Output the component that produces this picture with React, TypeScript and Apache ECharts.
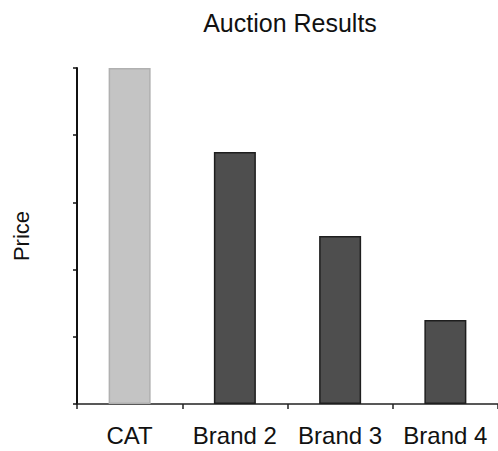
import React, { useEffect, useRef } from "react";
import * as echarts from "echarts";

const categories = ["CAT", "Brand 2", "Brand 3", "Brand 4"];
const prices = [100, 75, 50, 25];
const barColors = ["#c4c4c4", "#4e4e4e", "#4e4e4e", "#4e4e4e"];
const barBorders = ["#b0b0b0", "#1e1e1e", "#1e1e1e", "#1e1e1e"];

export default function App() {
  const ref = useRef<HTMLDivElement>(null);
  useEffect(() => {
    if (!ref.current) return;
    const chart = echarts.init(ref.current, null, { renderer: "svg" });
    chart.setOption({
      animation: false,
      backgroundColor: "#ffffff",
      title: {
        text: "Auction Results",
        left: 285,
        top: 5,
        textAlign: "center",
        textStyle: {
          fontFamily: "Liberation Sans, Arial, sans-serif",
          fontSize: 25,
          fontWeight: "normal",
          color: "#111",
        },
      },
      grid: { left: 77, top: 68, width: 425, height: 336 },
      xAxis: {
        type: "category",
        data: categories,
        axisLine: { lineStyle: { color: "#222", width: 1.5 } },
        axisTick: { show: true, interval: 0, length: 5, lineStyle: { color: "#222", width: 1.5 } },
        axisLabel: {
          interval: 0,
          margin: 19,
          fontFamily: "Liberation Sans, Arial, sans-serif",
          fontSize: 24,
          color: "#111",
        },
      },
      yAxis: {
        type: "value",
        min: 0,
        max: 100,
        interval: 20,
        name: "Price",
        nameLocation: "middle",
        nameRotate: 90,
        nameGap: 45,
        nameTextStyle: {
          fontFamily: "Liberation Sans, Arial, sans-serif",
          fontSize: 22,
          color: "#111",
        },
        axisLine: { show: true, lineStyle: { color: "#111", width: 2 } },
        axisTick: { show: true, length: 4, lineStyle: { color: "#111", width: 1.5 } },
        axisLabel: { show: false },
        splitLine: { show: false },
      },
      series: [
        {
          type: "bar",
          barWidth: 42,
          data: prices.map((v, i) => ({
            value: v,
            itemStyle: { color: barColors[i], borderColor: barBorders[i], borderWidth: 1.5 },
          })),
        },
      ],
    });
    return () => chart.dispose();
  }, []);
  return (
    <div
      ref={ref}
      style={{ position: "fixed", left: 0, top: 0, width: 498, height: 451 }}
    />
  );
}
